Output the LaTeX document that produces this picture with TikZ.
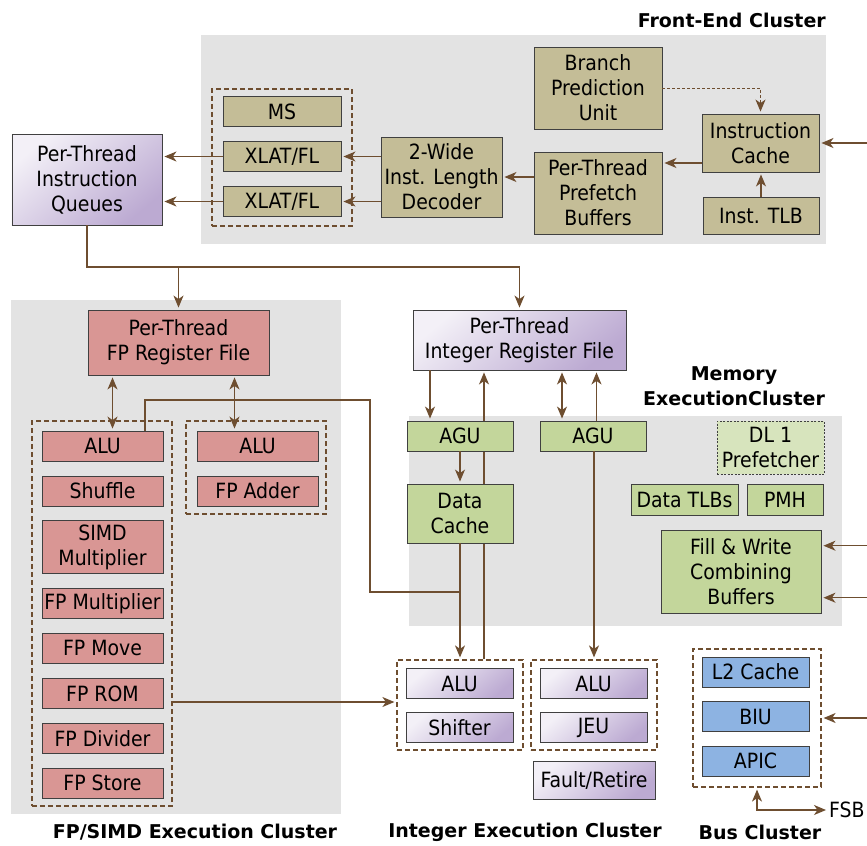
\documentclass[tikz,border=0pt]{standalone}
\usepackage{fontspec}
\setmainfont{DejaVu Sans Condensed}
\newfontfamily\titlefont{DejaVu Sans}
\usetikzlibrary{arrows.meta,calc}
\definecolor{panelc}{HTML}{E3E3E3}
\definecolor{bordc}{HTML}{404040}
\definecolor{arrc}{HTML}{6E4E30}
\definecolor{tanc}{HTML}{C4BD97}
\definecolor{pinkc}{HTML}{D99694}
\definecolor{greenc}{HTML}{C3D69B}
\definecolor{lgreenc}{HTML}{D7E4BD}
\definecolor{bluec}{HTML}{8DB3E2}
\definecolor{purpl}{HTML}{F3F0F7}
\definecolor{purpd}{HTML}{BCAAD2}
\pgfdeclarelayer{bg}
\pgfdeclarelayer{mid}
\pgfsetlayers{bg,mid,main}
\tikzset{
  box/.style={draw=bordc, line width=0.9bp, inner sep=0pt, align=center, text=black},
  tanbox/.style={box, fill=tanc},
  pinkbox/.style={box, fill=pinkc},
  greenbox/.style={box, fill=greenc},
  bluebox/.style={box, fill=bluec},
  purpbox/.style={box, top color=purpl, bottom color=purpd, shading angle=40},
  grp/.style={draw=arrc, line width=1.2bp, dash pattern=on 5bp off 3bp, inner sep=0pt},
  arr/.style={draw=arrc, line width=1.2bp, -{Stealth[length=12bp,width=10bp,inset=3.5bp]}, shorten >=2bp},
  dbl/.style={draw=arrc, line width=1.2bp, {Stealth[length=12bp,width=10bp,inset=3.5bp]}-{Stealth[length=12bp,width=10bp,inset=3.5bp]}, shorten >=2bp, shorten <=2bp},
  ln/.style={draw=arrc, line width=1.2bp},
  title/.style={font=\titlefont\bfseries\fontsize{19bp}{25bp}\selectfont, align=center, inner sep=0pt},
}
\begin{document}
\begin{tikzpicture}[x=1bp, y=-1bp, font=\fontsize{21bp}{25bp}\selectfont]
\useasboundingbox (0,0) rectangle (867,846);
\begin{pgfonlayer}{bg}
  \fill[white] (0,0) rectangle (867,846);
  \fill[panelc] (201,35) rectangle (826,244);
  \fill[panelc] (11,300) rectangle (341,814);
  \fill[panelc] (409,416) rectangle (842,626);
\end{pgfonlayer}

% ---------- Front-End ----------
\node[title, anchor=east] (tfe) at (826,20) {Front-End Cluster};
\node[tanbox, minimum width=128bp, minimum height=82bp] (bpu) at (598,88) {Branch\\Prediction\\Unit};
\node[tanbox, minimum width=117bp, minimum height=58bp] (ic) at (760.5,143) {Instruction\\Cache};
\node[tanbox, minimum width=116bp, minimum height=37bp] (itlb) at (761,215.5) {Inst. TLB};
\node[tanbox, minimum width=128bp, minimum height=82bp] (pfb) at (598,193) {Per-Thread\\Prefetch\\Buffers};
\node[tanbox, minimum width=121bp, minimum height=80bp] (dec) at (441.5,177) {2-Wide\\Inst. Length\\Decoder};
\node[grp, minimum width=140bp, minimum height=137bp] (fegrp) at (282,157.5) {};
\node[tanbox, minimum width=118bp, minimum height=30bp] (ms) at (282,111.5) {MS};
\node[tanbox, minimum width=118bp, minimum height=30bp] (xlat1) at (282,156.5) {XLAT/FL};
\node[tanbox, minimum width=118bp, minimum height=30bp] (xlat2) at (282,201.5) {XLAT/FL};
\node[purpbox, minimum width=150bp, minimum height=91bp] (ptiq) at (87,179.5) {Per-Thread\\Instruction\\Queues};

\draw[arr] (xlat1.west) -- (ptiq.east |- xlat1.west);
\draw[arr] (xlat2.west) -- (ptiq.east |- xlat2.west);
\draw[arr] (dec.west |- xlat1.east) -- (xlat1.east);
\draw[arr] (dec.west |- xlat2.east) -- (xlat2.east);
\draw[arr] (pfb.west |- dec.east) -- (dec.east);
\coordinate (icw) at ([yshift=-20bp]ic.west);
\draw[arr] (icw) -- (icw -| pfb.east);
\draw[arr] (itlb.north) -- (itlb.north |- ic.south);
\draw[arr, dash pattern=on 3bp off 2bp, line width=1bp] (bpu.east) -| (ic.north);
\coordinate (ext1) at (867,143);
\draw[arr] (ext1) -- (ic.east);

% ---------- trunk ----------
\coordinate (trunk) at (87,267);

% ---------- FP/SIMD ----------
\node[pinkbox, minimum width=181bp, minimum height=65bp] (fprf) at (178.5,342.5) {Per-Thread\\FP Register File};
\node[grp, minimum width=140bp, minimum height=385bp] (ldash) at (102,613.5) {};
\node[grp, minimum width=140bp, minimum height=93bp] (rdash) at (256,467.5) {};
\node[pinkbox, minimum width=121bp, minimum height=30bp] (alu1) at (102.5,446) {ALU};
\node[pinkbox, minimum width=121bp, minimum height=30bp] (shuf) at (102.5,491) {Shuffle};
\node[pinkbox, minimum width=121bp, minimum height=53bp] (simd) at (102.5,547) {SIMD\\Multiplier};
\node[pinkbox, minimum width=121bp, minimum height=30bp] (fpmul) at (102.5,603.5) {FP Multiplier};
\node[pinkbox, minimum width=121bp, minimum height=30bp] (fpmov) at (102.5,648.3) {FP Move};
\node[pinkbox, minimum width=121bp, minimum height=30bp] (fprom) at (102.5,693.5) {FP ROM};
\node[pinkbox, minimum width=121bp, minimum height=30bp] (fpdiv) at (102.5,738.3) {FP Divider};
\node[pinkbox, minimum width=121bp, minimum height=30bp] (fpst) at (102.5,783.3) {FP Store};
\node[pinkbox, minimum width=121bp, minimum height=30bp] (alu2) at (257.5,446) {ALU};
\node[pinkbox, minimum width=121bp, minimum height=30bp] (fpadd) at (257.5,491) {FP Adder};
\node[title] (tfp) at (195,832) {FP/SIMD Execution Cluster};

% ---------- Integer / Memory ----------
\node[purpbox, minimum width=213bp, minimum height=60bp] (irf) at (519.5,340) {Per-Thread\\Integer Register File};
\node[title] (tmem) at (734,386.5) {Memory\\ExecutionCluster};
\node[greenbox, minimum width=106bp, minimum height=30bp] (agu1) at (460,436) {AGU};
\node[greenbox, minimum width=106bp, minimum height=30bp] (agu2) at (593,436) {AGU};
\node[greenbox, minimum width=106bp, minimum height=59bp] (dc) at (460,513.5) {Data\\Cache};
\node[box, fill=lgreenc, dash pattern=on 2bp off 1.5bp, minimum width=107bp, minimum height=53bp] (dl1) at (770.5,447.5) {DL 1\\Prefetcher};
\node[greenbox, minimum width=107bp, minimum height=31bp] (dtlb) at (684.5,499.5) {Data TLBs};
\node[greenbox, minimum width=76bp, minimum height=31bp] (pmh) at (785,499.5) {PMH};
\node[greenbox, minimum width=160bp, minimum height=83bp] (fwb) at (741,571.5) {Fill \& Write\\Combining\\Buffers};

\node[grp, minimum width=126bp, minimum height=90bp] (idash1) at (460,705) {};
\node[grp, minimum width=126bp, minimum height=90bp] (idash2) at (594,705) {};
\node[purpbox, minimum width=107bp, minimum height=30bp] (ialu1) at (459.5,683.5) {ALU};
\node[purpbox, minimum width=107bp, minimum height=30bp] (shft) at (459.5,727.5) {Shifter};
\node[purpbox, minimum width=107bp, minimum height=30bp] (ialu2) at (593.5,683.5) {ALU};
\node[purpbox, minimum width=107bp, minimum height=30bp] (jeu) at (593.5,727.5) {JEU};
\node[purpbox, minimum width=122bp, minimum height=38bp] (fr) at (594,780) {Fault/Retire};
\node[title] (tint) at (525,832) {Integer Execution Cluster};

% ---------- Bus ----------
\node[grp, minimum width=128bp, minimum height=138bp] (busdash) at (757,718) {};
\node[bluebox, minimum width=107bp, minimum height=30bp] (l2) at (755.5,672) {L2 Cache};
\node[bluebox, minimum width=107bp, minimum height=30bp] (biu) at (755.5,716.5) {BIU};
\node[bluebox, minimum width=107bp, minimum height=30bp] (apic) at (755.5,761.3) {APIC};
\node[title] (tbus) at (760,832) {Bus Cluster};
\node[anchor=west, inner sep=0pt] (fsb) at (829,810) {FSB};

% ---------- connectors ----------
\draw[arr] (ptiq.south) -- (trunk) -| (irf.north);
\draw[arr] (fprf.north |- trunk) -- (fprf.north);

\coordinate (fa) at ([xshift=10bp]alu1.north);
\draw[dbl] (fa |- fprf.south) -- (fa);
\coordinate (fb) at ([xshift=-23bp]alu2.north);
\draw[dbl] (fb |- fprf.south) -- (fb);
\coordinate (fc) at ([xshift=42.5bp]alu1.north);
\coordinate (fcbend) at (370,400);
\coordinate (fcjoin) at (460,592);
\draw[ln] (fc) |- (fcbend) |- (fcjoin);

\coordinate (ia) at ([xshift=-30bp]agu1.north);
\draw[arr] (ia |- irf.south) -- (ia);
\coordinate (ib) at ([xshift=24bp]idash1.north);
\begin{pgfonlayer}{mid}
\draw[arr] (ib) -- (ib |- irf.south);
\end{pgfonlayer}
\draw[arr] (agu1.south) -- (dc.north);
\draw[arr] (dc.south) -- (idash1.north);
\coordinate (ic2) at ([xshift=-31bp]agu2.north);
\draw[dbl] (ic2 |- irf.south) -- (ic2);
\coordinate (id) at ([xshift=3.5bp]agu2.north);
\draw[arr] (id) -- (id |- irf.south);
\draw[arr] (idash2.north |- agu2.south) -- (idash2.north);

\coordinate (fr1) at ([yshift=3bp]idash1.west);
\draw[arr] (ldash.east |- fr1) -- (fr1);

\coordinate (e2) at (867,545.7);
\draw[arr] (e2) -- (e2 -| fwb.east);
\coordinate (e3) at (867,597.7);
\draw[arr] (e3) -- (e3 -| fwb.east);
\coordinate (e4) at (867,718);
\draw[arr] (e4) -- (busdash.east);
\draw[dbl, shorten >=3bp] (busdash.south) |- (fsb.west);
\end{tikzpicture}
\end{document}
